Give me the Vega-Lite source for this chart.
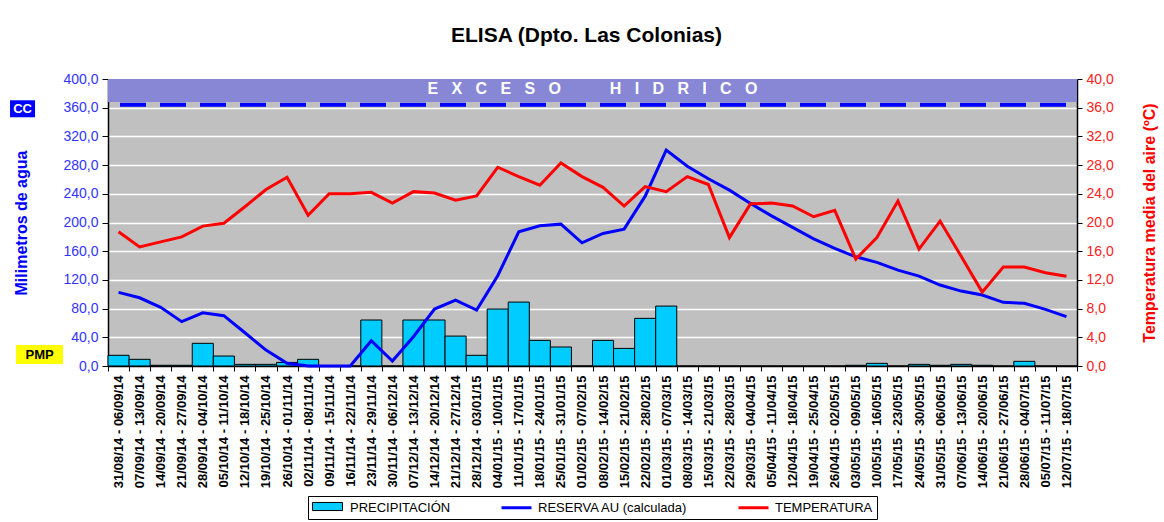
{
  "$schema": "https://vega.github.io/schema/vega-lite/v6.json",
  "width": 969,
  "height": 287,
  "padding": {"left": 10, "top": 25, "right": 4, "bottom": 0},
  "background": "white",
  "title": {"text": "ELISA (Dpto. Las Colonias)", "fontSize": 21, "font": "Liberation Sans", "fontWeight": "bold", "color": "black", "offset": 26, "dx": -6},
  "datasets": {
    "w": [
      {"semana": "31/08/14 - 06/09/14", "prec": 14.9, "reserva": 102.6, "temp": 18.7},
      {"semana": "07/09/14 - 13/09/14", "prec": 9.3, "reserva": 95.1, "temp": 16.6},
      {"semana": "14/09/14 - 20/09/14", "prec": 1, "reserva": 81.7, "temp": 17.3},
      {"semana": "21/09/14 - 27/09/14", "prec": 1, "reserva": 61.8, "temp": 18.0},
      {"semana": "28/09/14 - 04/10/14", "prec": 31.6, "reserva": 74.2, "temp": 19.5},
      {"semana": "05/10/14 - 11/10/14", "prec": 13.9, "reserva": 70.1, "temp": 19.9},
      {"semana": "12/10/14 - 18/10/14", "prec": 2.3, "reserva": 46.3, "temp": 22.2},
      {"semana": "19/10/14 - 25/10/14", "prec": 2.3, "reserva": 22.2, "temp": 24.6},
      {"semana": "26/10/14 - 01/11/14", "prec": 5, "reserva": 3.7, "temp": 26.3},
      {"semana": "02/11/14 - 08/11/14", "prec": 9.3, "reserva": 0, "temp": 21.0},
      {"semana": "09/11/14 - 15/11/14", "prec": 0, "reserva": 0, "temp": 24.0},
      {"semana": "16/11/14 - 22/11/14", "prec": 0, "reserva": 0, "temp": 24.0},
      {"semana": "23/11/14 - 29/11/14", "prec": 64.1, "reserva": 35.2, "temp": 24.2},
      {"semana": "30/11/14 - 06/12/14", "prec": 0, "reserva": 7.0, "temp": 22.7},
      {"semana": "07/12/14 - 13/12/14", "prec": 64.1, "reserva": 40.8, "temp": 24.3},
      {"semana": "14/12/14 - 20/12/14", "prec": 64.1, "reserva": 79.4, "temp": 24.1},
      {"semana": "21/12/14 - 27/12/14", "prec": 41.7, "reserva": 91.8, "temp": 23.1},
      {"semana": "28/12/14 - 03/01/15", "prec": 14.9, "reserva": 78.0, "temp": 23.7},
      {"semana": "04/01/15 - 10/01/15", "prec": 79.4, "reserva": 125.8, "temp": 27.7},
      {"semana": "11/01/15 - 17/01/15", "prec": 89.1, "reserva": 187.0, "temp": 26.4},
      {"semana": "18/01/15 - 24/01/15", "prec": 35.7, "reserva": 195.4, "temp": 25.2},
      {"semana": "25/01/15 - 31/01/15", "prec": 26.5, "reserva": 197.7, "temp": 28.3},
      {"semana": "01/02/15 - 07/02/15", "prec": 0, "reserva": 171.7, "temp": 26.4},
      {"semana": "08/02/15 - 14/02/15", "prec": 35.7, "reserva": 184.7, "temp": 24.9},
      {"semana": "15/02/15 - 21/02/15", "prec": 24.5, "reserva": 190.7, "temp": 22.3},
      {"semana": "22/02/15 - 28/02/15", "prec": 66.4, "reserva": 236.7, "temp": 25.0},
      {"semana": "01/03/15 - 07/03/15", "prec": 83.5, "reserva": 300.8, "temp": 24.3},
      {"semana": "08/03/15 - 14/03/15", "prec": 0, "reserva": 278.5, "temp": 26.4},
      {"semana": "15/03/15 - 21/03/15", "prec": 0, "reserva": 260.9, "temp": 25.3},
      {"semana": "22/03/15 - 28/03/15", "prec": 0, "reserva": 245.1, "temp": 17.9},
      {"semana": "29/03/15 - 04/04/15", "prec": 0, "reserva": 226.6, "temp": 22.6},
      {"semana": "05/04/15 - 11/04/15", "prec": 0, "reserva": 209.2, "temp": 22.7},
      {"semana": "12/04/15 - 18/04/15", "prec": 0, "reserva": 193.2, "temp": 22.3},
      {"semana": "19/04/15 - 25/04/15", "prec": 0, "reserva": 177.3, "temp": 20.8},
      {"semana": "26/04/15 - 02/05/15", "prec": 0, "reserva": 163.9, "temp": 21.7},
      {"semana": "03/05/15 - 09/05/15", "prec": 1, "reserva": 152.2, "temp": 14.9},
      {"semana": "10/05/15 - 16/05/15", "prec": 3.7, "reserva": 144.4, "temp": 17.9},
      {"semana": "17/05/15 - 23/05/15", "prec": 0, "reserva": 133.7, "temp": 23.0},
      {"semana": "24/05/15 - 30/05/15", "prec": 2.3, "reserva": 125.3, "temp": 16.3},
      {"semana": "31/05/15 - 06/06/15", "prec": 1, "reserva": 112.8, "temp": 20.2},
      {"semana": "07/06/15 - 13/06/15", "prec": 2.3, "reserva": 104.4, "temp": 15.3},
      {"semana": "14/06/15 - 20/06/15", "prec": 1, "reserva": 98.9, "temp": 10.3},
      {"semana": "21/06/15 - 27/06/15", "prec": 0, "reserva": 88.7, "temp": 13.8},
      {"semana": "28/06/15 - 04/07/15", "prec": 6.5, "reserva": 87.3, "temp": 13.8},
      {"semana": "05/07/15 - 11/07/15", "prec": 0, "reserva": 79.0, "temp": 13.0},
      {"semana": "12/07/15 - 18/07/15", "prec": 0, "reserva": 68.7, "temp": 12.5}
    ]
  },
  "data": {"name": "w"},
  "layer": [
    {
      "layer": [
        {
          "data": {"values": [{}]},
          "mark": {"type": "rect", "color": "#8787D6"},
          "encoding": {
            "y": {
              "datum": 368, "type": "quantitative", "scale": {"domain": [0, 400]},
              "axis": {
                "values": [0, 40, 80, 120, 160, 200, 240, 280, 320, 360, 400],
                "tickCount": 11,
                "labelOverlap": false,
                "labelExpr": "replace(format(datum.value, '.1f'), '.', ',')",
                "labelColor": "#3333FF", "labelFontSize": 14, "labelPadding": 4,
                "title": "Milimetros de agua", "titleColor": "#0000FF", "titleFontSize": 16, "titleFontWeight": "bold", "titlePadding": 33,
                "grid": true, "gridColor": "white", "gridWidth": 1.5, "tickSize": 6
              }
            },
            "y2": {"datum": 400}
          }
        },
        {
          "data": {"values": [{}]},
          "mark": {"type": "text", "color": "white", "font": "Liberation Sans", "fontSize": 16, "fontWeight": "bold", "baseline": "middle", "align": "center"},
          "encoding": {
            "y": {"datum": 385.6, "type": "quantitative"},
            "text": {"value": "E\u00a0\u00a0\u00a0X\u00a0\u00a0\u00a0C\u00a0\u00a0\u00a0E\u00a0\u00a0\u00a0S\u00a0\u00a0\u00a0O\u00a0\u00a0\u00a0\u00a0\u00a0\u00a0\u00a0\u00a0\u00a0\u00a0\u00a0H\u00a0\u00a0\u00a0I\u00a0\u00a0\u00a0D\u00a0\u00a0\u00a0R\u00a0\u00a0\u00a0I\u00a0\u00a0\u00a0C\u00a0\u00a0\u00a0O"}
          }
        },
        {
          "data": {"values": [{}]},
          "mark": {"type": "rule", "color": "#0000FF", "strokeWidth": 4, "strokeDash": [26, 14], "strokeDashOffset": 29},
          "encoding": {
            "y": {"datum": 364, "type": "quantitative"}
          }
        },
        {
          "mark": {"type": "bar", "stroke": "black", "strokeWidth": 1},
          "encoding": {
            "x": {"field": "semana", "type": "nominal", "sort": null, "title": null, "scale": {"paddingInner": 0, "paddingOuter": 0}},
            "y": {"field": "prec", "type": "quantitative"},
            "fill": {
              "datum": "PRECIPITACIÓN",
              "scale": {"domain": ["PRECIPITACIÓN"], "range": ["#00CCFF"]},
              "legend": {
                "title": null, "orient": "none", "legendX": 200, "legendY": 417, "direction": "horizontal",
                "labelExpr": "''", "symbolType": "M-1,-0.67H4V0.67H-1Z",
                "symbolStrokeColor": "black", "symbolStrokeWidth": 1, "symbolOpacity": 1
              }
            }
          }
        },
        {
          "mark": {"type": "line", "strokeWidth": 3},
          "encoding": {
            "x": {"field": "semana", "type": "nominal", "sort": null, "title": null},
            "y": {"field": "reserva", "type": "quantitative"},
            "stroke": {
              "datum": "RESERVA AU (calculada)",
              "scale": {"domain": ["PRECIPITACIÓN", "RESERVA AU (calculada)", "TEMPERATURA"], "range": ["transparent", "#0000FF", "#FF0000"]},
              "legend": {
                "title": null, "orient": "none", "legendX": 200, "legendY": 417, "direction": "horizontal",
                "strokeColor": "black", "symbolType": "M-1,0H4", "symbolStrokeWidth": 3
              }
            }
          }
        },
        {
          "transform": [{"filter": "datum.semana === '31/08/14 - 06/09/14'"}],
          "mark": {"type": "point", "shape": "M-1,-0.68H1V0.68H-1Z", "size": 625, "filled": true, "color": "#0000FF", "opacity": 1, "xOffset": -96},
          "encoding": {
            "x": {"field": "semana", "type": "nominal", "sort": null, "title": null},
            "y": {"datum": 358.5, "type": "quantitative"}
          }
        },
        {
          "transform": [{"filter": "datum.semana === '31/08/14 - 06/09/14'"}],
          "mark": {"type": "text", "color": "white", "font": "Liberation Sans", "fontSize": 13, "fontWeight": "bold", "xOffset": -96, "baseline": "middle", "align": "center"},
          "encoding": {
            "x": {"field": "semana", "type": "nominal", "sort": null, "title": null},
            "y": {"datum": 358.5, "type": "quantitative"},
            "text": {"value": "CC"}
          }
        },
        {
          "transform": [{"filter": "datum.semana === '31/08/14 - 06/09/14'"}],
          "mark": {"type": "point", "shape": "M-1,-0.404H1V0.404H-1Z", "size": 2209, "filled": true, "color": "#FFFF00", "opacity": 1, "xOffset": -79},
          "encoding": {
            "x": {"field": "semana", "type": "nominal", "sort": null, "title": null},
            "y": {"datum": 16, "type": "quantitative"}
          }
        },
        {
          "transform": [{"filter": "datum.semana === '31/08/14 - 06/09/14'"}],
          "mark": {"type": "text", "color": "black", "font": "Liberation Sans", "fontSize": 13, "fontWeight": "bold", "xOffset": -79, "baseline": "middle", "align": "center"},
          "encoding": {
            "x": {"field": "semana", "type": "nominal", "sort": null, "title": null},
            "y": {"datum": 16, "type": "quantitative"},
            "text": {"value": "PMP"}
          }
        }
      ]
    },
    {
      "mark": {"type": "line", "strokeWidth": 3},
      "encoding": {
        "x": {"field": "semana", "type": "nominal", "sort": null, "title": null},
        "y": {
          "field": "temp", "type": "quantitative", "scale": {"domain": [0, 40]},
          "axis": {
            "orient": "right",
            "values": [0, 4, 8, 12, 16, 20, 24, 28, 32, 36, 40],
            "tickCount": 11,
            "labelOverlap": false,
            "labelExpr": "replace(format(datum.value, '.1f'), '.', ',')",
            "labelColor": "#FF2020", "labelFontSize": 14, "labelPadding": 4,
            "title": "Temperatura media del aire (ºC)", "titleColor": "#FF0000", "titleFontSize": 16, "titleFontWeight": "bold",
            "titleAngle": 270, "titleBaseline": "top", "titlePadding": 28,
            "grid": false, "tickSize": 5
          }
        },
        "stroke": {"datum": "TEMPERATURA"}
      }
    }
  ],
  "resolve": {"scale": {"y": "independent"}},
  "config": {
    "font": "Liberation Sans",
    "view": {"fill": "#C0C0C0", "stroke": null},
    "axis": {"domainColor": "black", "tickColor": "black", "labelFont": "Liberation Sans", "titleFont": "Liberation Sans", "domainWidth": 1.5},
    "axisX": {"labelAngle": 270, "labelFontSize": 13, "labelFontWeight": "bold", "labelColor": "black", "tickBand": "extent", "tickSize": 5, "labelPadding": 4, "grid": false, "labelAlign": "right", "labelBaseline": "middle"},
    "legend": {
      "padding": 4,
      "labelFont": "Liberation Sans", "labelFontSize": 13, "labelColor": "black", "labelOffset": 23,
      "symbolSize": 144, "columnPadding": 44
    }
  }
}
